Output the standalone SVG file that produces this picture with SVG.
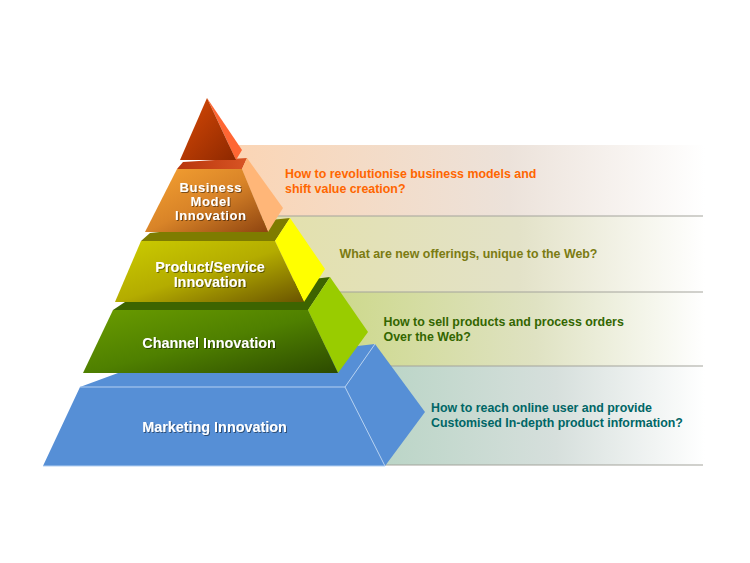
<svg xmlns="http://www.w3.org/2000/svg" width="750" height="563" viewBox="0 0 750 563">
<style>
.lbl{font-family:"Liberation Sans",Arial,sans-serif;font-weight:bold;font-size:14.4px;fill:#ffffff;text-anchor:middle;filter:url(#sh)}
.sm{font-size:13px;letter-spacing:0.6px}
.q{font-family:"Liberation Sans",Arial,sans-serif;font-weight:bold;font-size:12.4px}
.sep{stroke:#a4a49c;stroke-width:1.2}
</style>
<defs>
<filter id="sh" x="-10%" y="-30%" width="120%" height="160%">
<feDropShadow dx="1" dy="1" stdDeviation="0.6" flood-color="#000" flood-opacity="0.45"/>
</filter>
<linearGradient id="b1" x1="0" y1="0" x2="1" y2="0">
<stop offset="0" stop-color="#fcd4b2"/><stop offset="0.6" stop-color="#ece2da"/><stop offset="1" stop-color="#ffffff"/>
</linearGradient>
<linearGradient id="b2" x1="0" y1="0" x2="1" y2="0">
<stop offset="0" stop-color="#e3e0a8"/><stop offset="0.6" stop-color="#e3e2c8"/><stop offset="1" stop-color="#ffffff"/>
</linearGradient>
<linearGradient id="b3" x1="0" y1="0" x2="1" y2="0">
<stop offset="0" stop-color="#c8d67c"/><stop offset="0.6" stop-color="#dfe2c2"/><stop offset="1" stop-color="#ffffff"/>
</linearGradient>
<linearGradient id="b4" x1="0" y1="0" x2="1" y2="0">
<stop offset="0" stop-color="#b2d2c0"/><stop offset="0.6" stop-color="#d6dfdc"/><stop offset="1" stop-color="#ffffff"/>
</linearGradient>
<linearGradient id="gr" x1="0" y1="0" x2="1" y2="1">
<stop offset="0" stop-color="#d84a06"/><stop offset="1" stop-color="#8e2800"/>
</linearGradient>
<linearGradient id="go" x1="0" y1="0" x2="1" y2="1">
<stop offset="0" stop-color="#f6a232"/><stop offset="0.5" stop-color="#d98428"/><stop offset="1" stop-color="#8e4410"/>
</linearGradient>
<linearGradient id="got" x1="0" y1="0" x2="1" y2="0">
<stop offset="0" stop-color="#b8360c"/><stop offset="1" stop-color="#d85424"/>
</linearGradient>
<linearGradient id="gy" x1="0" y1="0" x2="1" y2="1">
<stop offset="0" stop-color="#cccc00"/><stop offset="0.5" stop-color="#b4ac00"/><stop offset="1" stop-color="#6a5400"/>
</linearGradient>
<linearGradient id="gg" x1="0" y1="0" x2="1" y2="1">
<stop offset="0" stop-color="#6a9c00"/><stop offset="0.5" stop-color="#4f8000"/><stop offset="1" stop-color="#2c4a00"/>
</linearGradient>
</defs>

<g id="bands">
<rect x="215" y="145" width="490" height="71" fill="url(#b1)"/>
<rect x="240" y="216" width="465" height="76" fill="url(#b2)"/>
<rect x="280" y="292" width="425" height="74" fill="url(#b3)"/>
<rect x="330" y="366" width="375" height="99" fill="url(#b4)"/>
<line class="sep" x1="240" y1="216" x2="703" y2="216"/>
<line class="sep" x1="280" y1="292" x2="703" y2="292"/>
<line class="sep" x1="330" y1="366" x2="703" y2="366"/>
<line class="sep" x1="380" y1="465" x2="703" y2="465"/>
</g>

<g id="marketing">
<polygon points="80,387 118,373 375,344 345,387" fill="#568fd6"/>
<polygon points="345,387 375,344 425,412 385,466" fill="#568fd6"/>
<polygon points="43,466 80,387 345,387 385,466" fill="#568fd6"/>
<polyline points="80,387 345,387 385,466" fill="none" stroke="#b4d0f2" stroke-width="1"/>
<line x1="345" y1="387" x2="375" y2="344" stroke="#b4d0f2" stroke-width="1"/>
<line x1="43" y1="466" x2="385" y2="466" stroke="#b4d0f2" stroke-width="1"/>
<text class="lbl" x="214.5" y="431.5">Marketing Innovation</text>
</g>

<g id="channel">
<polygon points="113,310 125,302 330,277 308,310" fill="#3d6400"/>
<polygon points="308,310 330,277 368,332 338,373" fill="#99cc00"/>
<polygon points="83,373 113,310 308,310 338,373" fill="url(#gg)"/>
<text class="lbl" x="209" y="347.5">Channel Innovation</text>
</g>

<g id="product">
<polygon points="141,241 150,233 290,218 275,241" fill="#7e7c00"/>
<polygon points="275,241 290,218 325,269 304,302" fill="#ffff00"/>
<polygon points="115,302 141,241 275,241 304,302" fill="url(#gy)"/>
<text class="lbl" x="210" y="272">Product/Service</text>
<text class="lbl" x="210" y="286.5">Innovation</text>
</g>

<g id="business">
<polygon points="177,169 183,162 247,158 242,169" fill="url(#got)"/>
<polygon points="242,169 247,158 283,208 268,232" fill="#ffb678"/>
<polygon points="145,232 177,169 242,169 268,232" fill="url(#go)"/>
<text class="lbl sm" x="210.8" y="192">Business</text>
<text class="lbl sm" x="210.8" y="206">Model</text>
<text class="lbl sm" x="210.8" y="220">Innovation</text>
</g>

<g id="apex">
<polygon points="207,98 242,150 236,160" fill="#ff6633"/>
<polygon points="207,98 180,160 236,160" fill="url(#gr)"/>
</g>

<g id="questions">
<text class="q" fill="#ff6600" x="285" y="177.5">How to revolutionise business models and</text>
<text class="q" fill="#ff6600" x="285" y="192.5">shift value creation?</text>
<text class="q" fill="#7b7b12" x="339.5" y="257.5">What are new offerings, unique to the Web?</text>
<text class="q" fill="#336600" x="383.5" y="326">How to sell products and process orders</text>
<text class="q" fill="#336600" x="383.5" y="340.5">Over the Web?</text>
<text class="q" fill="#006666" x="431" y="411.5">How to reach online user and provide</text>
<text class="q" fill="#006666" x="431" y="426.5">Customised In-depth product information?</text>
</g>
</svg>
